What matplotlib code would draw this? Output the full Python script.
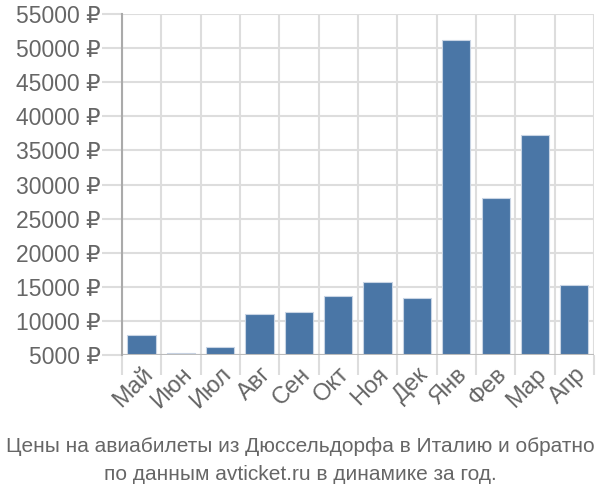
import matplotlib
matplotlib.use("Agg")
import matplotlib.pyplot as plt
import numpy as np

months = ["Май", "Июн", "Июл", "Авг", "Сен", "Окт", "Ноя", "Дек", "Янв", "Фев", "Мар", "Апр"]
prices = [7930, 5240, 6170, 11010, 11260, 13700, 15700, 13310, 51190, 28020, 37260, 15310]
yticks = list(range(5000, 55001, 5000))

plt.rcParams['font.family'] = ['Liberation Sans', 'DejaVu Sans']

fig = plt.figure(figsize=(6, 5), dpi=100)
ax = fig.add_axes([0.2033, 0.29, 0.7867, 0.682])

x = np.arange(len(months))
ax.bar(x, prices, width=0.72, color='#4a76a6', edgecolor='#c8d4e4', linewidth=0.8, zorder=3)

ax.set_xlim(-0.5, len(months) - 0.5)
ax.set_ylim(5000, 55000)

# grid: vertical lines sit between the months
for b in np.arange(-0.5, len(months), 1.0):
	ax.axvline(b, color='#dddddd', linewidth=1.5, zorder=1)
for t in yticks:
	ax.axhline(t, color='#dddddd', linewidth=1.5, zorder=1)
ax.axhline(5000, color='#bbbbbb', linewidth=1.5, zorder=4)

ax.set_xticks(x)
ax.set_xticklabels(months, rotation=45, ha='right', rotation_mode='anchor')
ax.set_yticks(yticks)
ax.set_yticklabels([f"{t} ₽" for t in yticks])
ax.tick_params(axis='x', length=0, pad=6, labelsize=17, labelcolor='#666666')
ax.tick_params(axis='y', length=14.4, color='#dddddd', width=1.5, pad=1, labelsize=16.5, labelcolor='#666666')

ax.set_xticks(np.arange(-0.5, len(months), 1.0), minor=True)
ax.tick_params(axis='x', which='minor', length=14.4, color='#dddddd', width=1.5)

for s in ['top', 'right', 'bottom']:
	ax.spines[s].set_visible(False)
ax.spines['left'].set_color('#aaaaaa')
ax.spines['left'].set_linewidth(1.5)
ax.spines['left'].set_zorder(5)

fig.text(0.5, 0.106, "Цены на авиабилеты из Дюссельдорфа в Италию и обратно", ha='center', va='center', fontsize=15, color='#666666')
fig.text(0.5, 0.052, "по данным avticket.ru в динамике за год.", ha='center', va='center', fontsize=15, color='#666666')

fig.savefig("out.png", dpi=100)
